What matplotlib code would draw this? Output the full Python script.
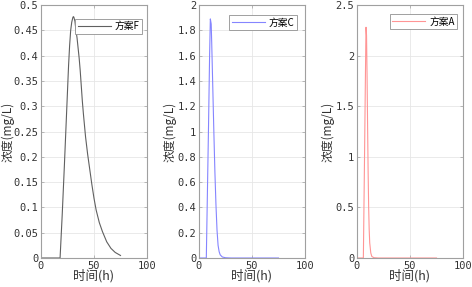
import numpy as np
import matplotlib
matplotlib.use('Agg')
import matplotlib.pyplot as plt

# 方案F
t_F = [0, 18, 20, 22, 24, 26, 27, 28, 29, 30, 30.5, 31, 32, 33, 34, 35, 36,
       37, 38, 39, 40, 42, 44, 46, 48, 50, 52, 55, 58, 62, 66, 70, 75]
c_F = [0, 0, 0.085, 0.18, 0.28, 0.38, 0.42, 0.45, 0.466, 0.475, 0.477, 0.476,
       0.468, 0.45, 0.435, 0.415, 0.395, 0.37, 0.34, 0.31, 0.285, 0.24, 0.205,
       0.175, 0.145, 0.118, 0.095, 0.07, 0.052, 0.032, 0.019, 0.011, 0.005]

# 方案C
t_C = [0, 6.9, 8, 9, 10, 10.7, 11.5, 12, 13, 14, 15, 16, 17, 18, 19, 20, 22,
       25, 30, 75]
c_C = [0, 0, 0.55, 1.05, 1.6, 1.89, 1.85, 1.7, 1.35, 1.0, 0.68, 0.42, 0.22,
       0.1, 0.05, 0.025, 0.008, 0.002, 0, 0]

# 方案A
t_A = [0, 6.0, 7, 8, 8.5, 9, 9.5, 10, 10.5, 11, 11.5, 12, 13, 14, 16, 20, 75]
c_A = [0, 0, 0.9, 1.85, 2.28, 2.2, 1.8, 1.3, 0.85, 0.5, 0.28, 0.15, 0.05,
       0.015, 0.003, 0, 0]

names = ['方案F', '方案C', '方案A']
colors = ['#606060', '#8585ff', '#ff9595']
ymax = [0.5, 2, 2.5]
ystep = [0.05, 0.2, 0.5]
lefts = [41, 199, 357]
ylab_x = [-0.315, -0.27, -0.27]
leg_anchor = [(0.953, 0.945), (0.925, 0.96), (0.943, 0.964)]
data = [(t_F, c_F), (t_C, c_C), (t_A, c_A)]

cjk = ['Noto Sans CJK SC', 'DejaVu Sans']

fig = plt.figure(figsize=(4.72, 2.87), dpi=100)
W, H = 472, 287

for i in range(3):
    ax = fig.add_axes([lefts[i] / W, 1 - 258 / H, 106 / W, 253 / H])
    t, c = data[i]
    ax.plot(t, c, color=colors[i], lw=0.8, label=names[i])
    ax.set_xlim(0, 100)
    ax.set_ylim(0, ymax[i])
    ax.set_xticks([0, 50, 100])
    yt = np.round(np.arange(0, ymax[i] + 1e-9, ystep[i]), 2)
    ax.set_yticks(yt)
    ax.set_yticklabels(['%g' % v for v in yt])
    ax.grid(True, color='#e6e6e6', lw=0.6)
    ax.set_axisbelow(True)
    for s in ax.spines.values():
        s.set_color('#a0a0a0')
        s.set_linewidth(0.8)
    ax.tick_params(direction='in', length=2, width=0.5, color='#a0a0a0',
                   top=True, right=True, labelsize=7.5, labelcolor='#333333',
                   pad=2)
    for lab in ax.get_xticklabels() + ax.get_yticklabels():
        lab.set_family('DejaVu Sans Mono')
    ax.set_xlabel('时间(h)', family=cjk, fontsize=9, labelpad=-1,
                  color='#333333')
    ax.set_ylabel('浓度(mg/L)', family=cjk, fontsize=8.5, color='#333333',
                  va='center')
    ax.yaxis.set_label_coords(ylab_x[i], 0.5)
    leg = ax.legend(loc='upper right', bbox_to_anchor=leg_anchor[i],
                    prop={'family': cjk, 'size': 7}, fancybox=False,
                    framealpha=1, edgecolor='#909090', handlelength=3.4,
                    handletextpad=0.4, borderpad=0.25, borderaxespad=0)
    leg.get_frame().set_linewidth(0.6)

fig.savefig('out.png', dpi=100)
